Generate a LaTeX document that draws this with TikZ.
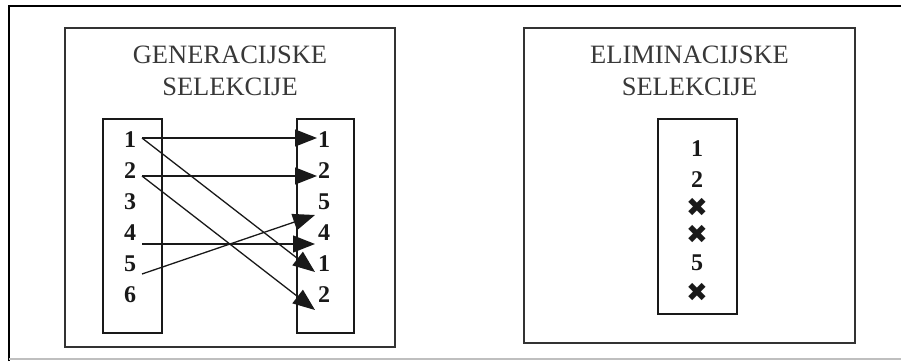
\documentclass[tikz,border=0pt]{standalone}
\usepackage{fontspec}
\setmainfont{Liberation Serif}
\newfontfamily\symfont{DejaVu Sans}
\usetikzlibrary{arrows.meta}
\begin{document}
\begin{tikzpicture}[x=1pt,y=-1pt,
  panel/.style={draw=black!80, line width=1.8pt, inner sep=0, outer sep=0},
  col/.style={draw=black!90, line width=1.5pt, inner sep=0, outer sep=0},
  title/.style={font=\fontsize{26.5}{31}\selectfont, text=black!78, inner sep=0, anchor=base},
  num/.style={font=\fontsize{24}{24}\selectfont\bfseries, text=black!90, inner sep=0, anchor=base},
  xmark/.style={font=\symfont\fontsize{26}{26}\selectfont, text=black!90, inner sep=0, anchor=center},
  link/.style={line width=1.3pt, black!90, -{Triangle[length=22pt,width=17pt]}},
]
\useasboundingbox (0,0) rectangle (901,361);
% outer frame
\draw[line width=2pt] (9,361) -- (9,6) -- (901,6);
\draw[black!25, line width=1.2pt] (9,359) -- (901,359);

% ---------- left panel ----------
\node[panel, minimum width=330pt, minimum height=319pt] (genbox) at (230,187.5) {};
\node[title] (gt1) at (230,63.5) {GENERACIJSKE};
\node[title] (gt2) at (230,95.5) {SELEKCIJE};
\node[col, minimum width=59pt, minimum height=214pt] (lcol) at (132.5,226) {};
\node[col, minimum width=57pt, minimum height=214pt] (rcol) at (325.5,226) {};

\foreach \t [count=\i] in {1,2,3,4,5,6}
  \node[num] (L\i) at (130,{139+31*(\i-1)+8}) {\t};
\foreach \t [count=\i] in {1,2,5,4,1,2}
  \node[num] (R\i) at (324,{139+31*(\i-1)+8}) {\t};

\coordinate (s1) at (142,138);
\coordinate (s2) at (142,176);
\coordinate (s4) at (142,244);
\coordinate (s5) at (142,274);
\coordinate (t1) at (317,138);
\coordinate (t2) at (317,176);
\coordinate (t3) at (315,215);
\coordinate (t4) at (315,244);
\coordinate (t5) at (315,272);
\coordinate (t6) at (315,310);

\draw[link] (s1) -- (t1);
\draw[link] (s1) -- (t5);
\draw[link] (s2) -- (t2);
\draw[link] (s2) -- (t6);
\draw[link] (s4) -- (t4);
\draw[link] (s5) -- (t3);

% ---------- right panel ----------
\node[panel, minimum width=331pt, minimum height=315pt] (elbox) at (689.5,185.5) {};
\node[title] (et1) at (689.5,63.5) {ELIMINACIJSKE};
\node[title] (et2) at (689.5,95.5) {SELEKCIJE};
\node[col, minimum width=79pt, minimum height=195pt] (ecol) at (697.5,216.5) {};

\node[num] (E1) at (697,156) {1};
\node[num] (E2) at (697,187) {2};
\node[xmark] (E3) at (697,207) {✖};
\node[xmark] (E4) at (697,234) {✖};
\node[num] (E5) at (697,270) {5};
\node[xmark] (E6) at (697,292) {✖};
\end{tikzpicture}
\end{document}
